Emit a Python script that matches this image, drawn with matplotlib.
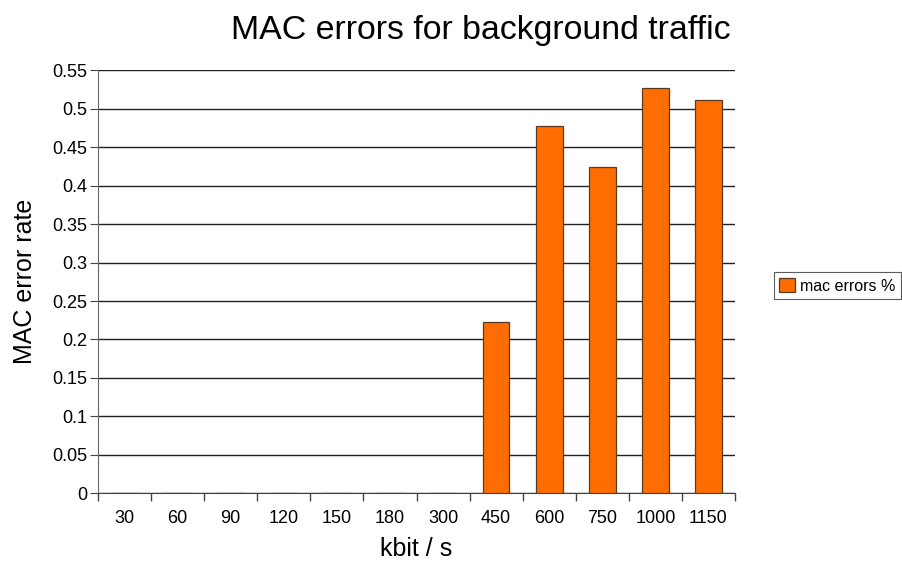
import matplotlib.pyplot as plt
import numpy as np

plt.rcParams['font.family'] = ['Liberation Sans', 'DejaVu Sans']

# data: MAC error rate per background traffic load
rates = ['30', '60', '90', '120', '150', '180', '300', '450', '600', '750', '1000', '1150']
mac_errors = [0, 0, 0, 0, 0, 0, 0, 0.2227, 0.478, 0.424, 0.5266, 0.512]
yticks = np.arange(0, 0.551, 0.05)
ytick_labels = ['0', '0.05', '0.1', '0.15', '0.2', '0.25', '0.3', '0.35', '0.4', '0.45', '0.5', '0.55']

fig = plt.figure(figsize=(9.03, 5.67), dpi=100)
ax = fig.add_axes([0.1085, 0.130, 0.7055, 0.746])

x = np.arange(len(rates))
ax.bar(x, mac_errors, width=0.5, color='#ff6c00', edgecolor='#5a3a20',
       linewidth=0.9, zorder=3, label='mac errors %')

ax.set_xlim(-0.5, len(rates) - 0.5)
ax.set_ylim(0, 0.55)
ax.set_yticks(yticks)
ax.set_yticklabels(ytick_labels)
ax.yaxis.grid(True, color='#222222', linewidth=1.0, zorder=0)

# category labels centred, ticks on category boundaries
ax.set_xticks(x)
ax.set_xticklabels(rates)
ax.tick_params(axis='x', length=0, pad=12, labelsize=13)
ax.set_xticks(np.arange(-0.5, len(rates), 1.0), minor=True)
ax.tick_params(axis='x', which='minor', length=6, color='#444444', width=1)
ax.tick_params(axis='y', length=6, color='#444444', labelsize=13, pad=1.5)

for side in ['top', 'right']:
    ax.spines[side].set_visible(False)
ax.spines['left'].set_color('#666666')
ax.spines['bottom'].set_color('#444444')

ax.set_xlabel('kbit / s', fontsize=18, labelpad=7)
ax.set_ylabel('MAC error rate', fontsize=18, labelpad=11)
fig.text(0.533, 0.946, 'MAC errors for background traffic', fontsize=24.4,
         ha='center', va='center')

leg = fig.legend(loc='center left', bbox_to_anchor=(0.857, 0.496), frameon=True,
                 fancybox=False, edgecolor='#333333', fontsize=11.5,
                 handlelength=1.0, handleheight=1.0, borderpad=0.35,
                 handletextpad=0.3, borderaxespad=0)
leg.get_frame().set_linewidth(0.8)

fig.savefig('out.png', dpi=100)
